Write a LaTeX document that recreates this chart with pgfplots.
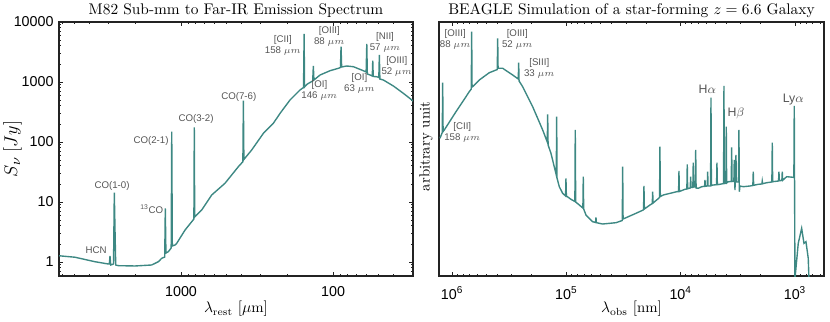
\documentclass[border=0pt]{standalone}
\usepackage{pgfplots}
\pgfplotsset{compat=1.18}
\usepackage{fontspec}
\newfontfamily\hv{Liberation Sans}
\definecolor{spec}{RGB}{61,136,131}
\definecolor{anncol}{RGB}{85,85,85}
\definecolor{frame}{RGB}{35,35,35}

\pgfplotsset{
  specax/.style={
    scale only axis, anchor=south west, height=165.1pt,
    axis line style={frame, line width=0.85pt},
    every tick/.style={frame, line width=0.55pt},
    major tick length=2.8pt, minor tick length=1.6pt,
    tick label style={font=\hv\fontsize{9.3}{10}\selectfont},
    /pgf/number format/assume math mode=true,
    every axis title/.style={font=\fontsize{10}{12}\selectfont, at={(0.5,1)}, anchor=base, yshift=5.2pt},
    every axis x label/.style={font=\fontsize{9.6}{11}\selectfont, at={(0.5,0)}, anchor=base, yshift=-24pt},
  },
}
\tikzset{
  lbl/.style={font=\hv\fontsize{6.3}{7.2}\selectfont, text=anncol, align=center, inner sep=0pt},
  lblb/.style={font=\hv\fontsize{8}{9}\selectfont, text=anncol, align=center, inner sep=0pt},
}

\begin{document}
\begin{tikzpicture}
\useasboundingbox (0,0) rectangle (539.5pt,208.65pt);

% left: M82
\begin{axis}[xmode=log, ymode=log, x dir=reverse, specax,
  at={(38.35pt,29.25pt)}, width=230.1pt,
  xmin=29.8, xmax=6350, ymin=0.584, ymax=10000,
  log ticks with fixed point, /pgf/number format/1000 sep={},
  xticklabel style={yshift=-3pt},
  title={M82 Sub-mm to Far-IR Emission Spectrum},
  xlabel={$\lambda_{\mathrm{rest}}\ [\mu\mathrm{m}]$},
  ylabel={$S_\nu\;[Jy]$},
  ylabel style={font=\fontsize{12.5}{14}\selectfont, at={(axis description cs:-0.131,0.5)}, anchor=center},
]
\addplot[spec, line width=0.9pt] coordinates {
(6347,1.27) (4981,1.20) (3680,1.01) (3008,0.926) (2963,0.93) (2932,1.26) (2901,0.89)
(2780,0.926) (2747,14.3) (2718,3.41) (2689,0.89) (2585,0.868) (2007,0.858) (1560,0.891)
(1410,1.01) (1340,1.153) (1280,1.21) (1269,7.85) (1257,1.41) (1212,1.485) (1161,1.71)
(1151,148.5) (1141,1.85) (1095,1.92) (1067,2.05) (941,3.41) (850,4.70) (823,5.21)
(818,176) (813,5.62) (731,7.36) (628,13.1) (514,20.5) (420,38.7) (392,46.9) (389,488)
(386,51.1) (343,73.6) (287,140) (247,205) (223,301) (192,501) (165,736) (156.4,810)
(155,6310) (154,826) (147.6,926) (136.1,1040) (134.8,1848) (133.6,1080) (121.7,1309)
(104.7,1542) (92.3,1691) (89.4,1745) (88.6,3875) (87.8,1778) (81.3,1848) (73.5,1799)
(63.2,1542) (60.6,1468) (60.0,4300) (59.5,1359) (57.1,1309) (55.2,1259) (54.8,2265)
(54.4,1236) (51.6,1225) (50.0,1189) (49.6,2818) (49.2,1122) (46.7,1080) (40.1,858)
(34.5,648) (30.3,501) (29.8,482)
};
\node[lbl] at (axis cs:3624,1.585) {HCN};
\node[lbl] at (axis cs:2844,18.5) {CO(1-0)};
\node[lbl] at (axis cs:1559,7.55) {\textsuperscript{13}CO};
\node[lbl] at (axis cs:1575,105) {CO(2-1)};
\node[lbl] at (axis cs:797,242) {CO(3-2)};
\node[lbl] at (axis cs:417,556) {CO(7-6)};
\node[lbl] at (axis cs:214,4087) {[CII]\\158 $\mu m$};
\node[lbl] at (axis cs:105.8,5689) {[OIII]\\88 $\mu m$};
\node[lbl] at (axis cs:123,716) {[OI]\\146 $\mu m$};
\node[lbl] at (axis cs:67.1,951) {[OI]\\63 $\mu m$};
\node[lbl] at (axis cs:45.5,4590) {[NII]\\57 $\mu m$};
\node[lbl] at (axis cs:38.1,1799) {[OIII]\\52 $\mu m$};
\end{axis}

% right: BEAGLE
\begin{axis}[xmode=log, x dir=reverse, specax,
  at={(285.35pt,29.25pt)}, width=250.25pt,
  xmin=557, xmax=1299000, ymin=0, ymax=254, ytick=\empty,
  log basis x=10,
  xticklabel={10\textsuperscript{\pgfmathparse{int(round(\tick))}\pgfmathresult}},
  xticklabel style={yshift=-3.5pt},
  title={BEAGLE Simulation of a star-forming $z=6.6$ Galaxy},
  xlabel={$\lambda_{\mathrm{obs}}\ [\mathrm{nm}]$},
  ylabel={arbitrary unit},
  ylabel style={font=\fontsize{9.6}{11}\selectfont, at={(axis description cs:-0.034,0.51)}, anchor=center},
]
\addplot[spec, line width=0.9pt] coordinates {
(1274000,137.7) (1216000,143.5) (1206000,193.3) (1196000,144.5) (1168000,146) (922600,164.3)
(706100,184.3) (678200,187) (672700,244.3) (667300,189) (648600,190) (577100,196)
(471900,203.3) (401700,206.5) (398400,237.7) (395200,207.7) (360100,207.7) (294500,201)
(263100,197) (261000,213.3) (258900,195) (240800,189.3) (196900,169.3) (160900,146)
(146700,134) (145500,161.7) (144300,131) (136200,122.7) (122400,101) (121400,159.3)
(120500,98) (115200,89.3) (107600,82.7) (101500,80) (100700,97.7) (99860,80) (91040,76.7)
(84140,74.5) (83500,146) (82800,74) (77010,71) (71630,68) (71050,99.3) (70480,67)
(67300,61) (58820,54.3) (55460,53.5) (55020,58.7) (54570,53.3) (48080,52) (36780,53.3)
(32390,55.5) (32130,109.3) (31870,57) (24580,62.7) (21230,66) (21100,66.3) (20930,90)
(20760,67) (18540,71) (17700,72.5) (17560,84.3) (17420,73) (16210,76) (15290,78.5)
(15170,129.3) (15050,79.5) (14180,81) (10830,84.3) (10420,84.5) (10340,105) (10260,84.5)
(9165,86.7) (8821,87) (8750,111.7) (8680,87.3) (8240,88) (8174,99.3) (8109,88.5)
(7819,88.7) (7756,113.3) (7693,89) (7442,89) (7382,126) (7323,88) (7012,87.7) (6546,89.3)
(6173,89.7) (6124,96) (6075,89.7) (5847,90) (5800,104.3) (5754,90) (5470,90) (5426,178.3)
(5383,90.5) (5182,91) (4849,91.3) (4810,113.3) (4772,91.3) (4529,91.7) (4212,92.5)
(4178,190) (4145,92.5) (4022,93) (3989,149.3) (3958,93) (3832,94.3) (3607,94.5)
(3578,128.7) (3549,94.5) (3422,94.7) (3395,116) (3347,86) (3281,121) (3254,94) (3115,94)
(3090,146) (3065,84.3) (3027,90) (2831,89.3) (2474,90) (2335,90.5) (2316,104.3)
(2297,90.7) (2094,91.7) (1947,92) (1932,95) (1916,92.3) (1768,93.3) (1592,94)
(1579,133.3) (1567,94.3) (1391,95) (1380,104.3) (1369,95.3) (1302,95.5) (1291,104.3)
(1281,95.7) (1182,99.3) (1035,98.7) (1022,98.5) (1014,170) (1000,-3) (935.6,32.7)
(873.6,47.7) (834.1,32.7) (801.2,34.3) (765,17.7) (754.3,-3)
};
\node[lbl] at (axis cs:812700,143.2) {[CII]\\158 $\mu m$};
\node[lbl] at (axis cs:937600,236.3) {[OIII]\\88 $\mu m$};
\node[lbl] at (axis cs:268400,236.3) {[OIII]\\52 $\mu m$};
\node[lbl] at (axis cs:172300,207.3) {[SIII]\\33 $\mu m$};
\node[lblb] at (axis cs:5848,187) {H$\alpha$};
\node[lblb] at (axis cs:3281,162.7) {H$\beta$};
\node[lblb] at (axis cs:1035,176.7) {Ly$\alpha$};
\end{axis}
\end{tikzpicture}
\end{document}
